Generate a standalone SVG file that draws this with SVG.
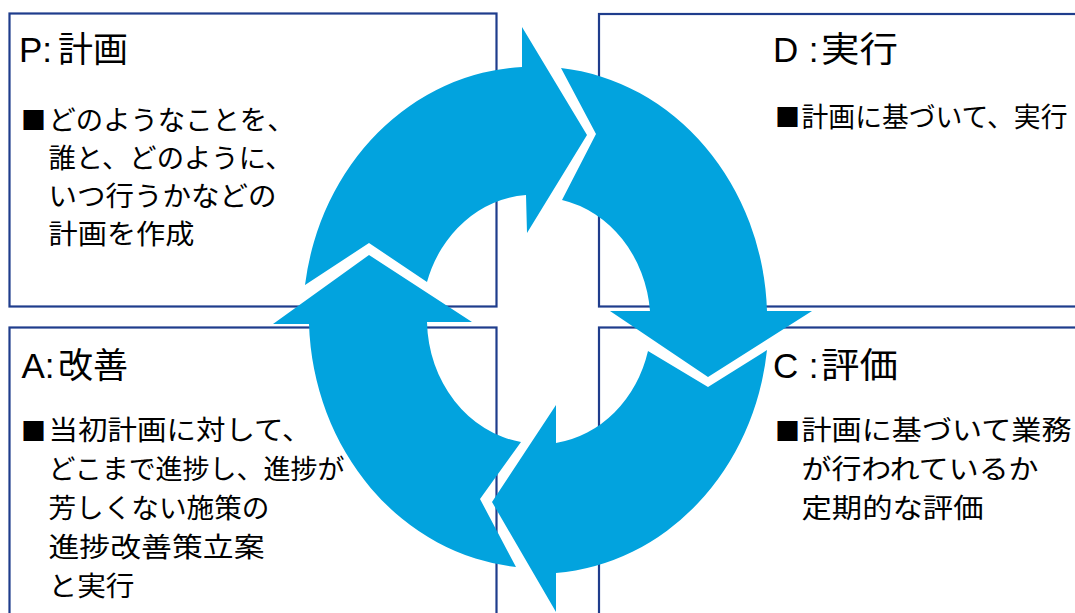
<svg xmlns="http://www.w3.org/2000/svg" width="1075" height="613" viewBox="0 0 1075 613">
<defs>
<style>
.box{fill:#fff;stroke:#1f3d8c;stroke-width:2.2}
.ttl{font-family:"Liberation Sans","Noto Sans CJK JP",sans-serif;font-size:35px;fill:#000}
.body{font-family:"Noto Sans CJK JP",sans-serif;font-size:27px;fill:#000}
.bul{font-family:"Noto Sans CJK JP",sans-serif;font-size:25px;fill:#000}
.arrow{fill:#02a3de}
</style>
</defs>
<rect width="1075" height="613" fill="#fff"/>
<g id="node-P">
<rect class="box" x="9.5" y="13.5" width="487" height="293"/>
<text class="ttl" x="19" y="62">P:<tspan x="58">計画</tspan></text>
<text class="bul" x="21" y="129.5">■</text>
<text class="body" x="48.5" y="130" textLength="246" lengthAdjust="spacingAndGlyphs">どのようなことを、</text>
<text class="body" x="48.5" y="168" textLength="244" lengthAdjust="spacingAndGlyphs">誰と、どのように、</text>
<text class="body" x="48.5" y="206" textLength="228" lengthAdjust="spacingAndGlyphs">いつ行うかなどの</text>
<text class="body" x="48.5" y="244" textLength="146" lengthAdjust="spacingAndGlyphs">計画を作成</text>
</g>
<g id="node-D">
<rect class="box" x="599" y="14" width="490" height="292.5"/>
<text class="ttl" x="773" y="62">D<tspan x="808.8">:</tspan><tspan x="821" textLength="77" lengthAdjust="spacingAndGlyphs">実行</tspan></text>
<text class="bul" x="775" y="126.5">■</text>
<text class="body" x="801.5" y="127" textLength="266" lengthAdjust="spacingAndGlyphs">計画に基づいて、実行</text>
</g>
<g id="node-C">
<rect class="box" x="599" y="327.5" width="490" height="300"/>
<text class="ttl" x="773" y="378">C<tspan x="808.8">:</tspan><tspan x="821" textLength="77" lengthAdjust="spacingAndGlyphs">評価</tspan></text>
<text class="bul" x="775" y="440.5">■</text>
<text class="body" x="801.5" y="440" textLength="270" lengthAdjust="spacingAndGlyphs">計画に基づいて業務</text>
<text class="body" x="801.5" y="479" textLength="237" lengthAdjust="spacingAndGlyphs">が行われているか</text>
<text class="body" x="801.5" y="518" textLength="182" lengthAdjust="spacingAndGlyphs">定期的な評価</text>
</g>
<g id="node-A">
<rect class="box" x="9.5" y="327.5" width="487" height="300"/>
<text class="ttl" x="21.5" y="378">A:<tspan x="58">改善</tspan></text>
<text class="bul" x="21" y="440.5">■</text>
<text class="body" x="48.5" y="440" textLength="263" lengthAdjust="spacingAndGlyphs">当初計画に対して、</text>
<text class="body" x="48.5" y="479" textLength="296" lengthAdjust="spacingAndGlyphs">どこまで進捗し、進捗が</text>
<text class="body" x="48.5" y="518" textLength="221" lengthAdjust="spacingAndGlyphs">芳しくない施策の</text>
<text class="body" x="48.5" y="557" textLength="216" lengthAdjust="spacingAndGlyphs">進捗改善策立案</text>
<text class="body" x="48.5" y="596" textLength="86" lengthAdjust="spacingAndGlyphs">と実行</text>
</g>
<g id="connectors">
<path id="arrow-P-D" class="arrow" d="M305,285 A229.5,253 0 0 1 522,67 L522,27 L587,135 L527,233 L526,195 A111.5,124.5 0 0 0 427,282 L369,243 Z"/>
<path id="arrow-D-C" class="arrow" d="M561,68 A229.5,253 0 0 1 767,311 L812,311 L708,377 L610,311 L650,311 A111.5,124.5 0 0 0 562,200 L596,134 Z"/>
<path id="arrow-C-A" class="arrow" d="M767,350 A229.5,253 0 0 1 556,573 L556,612 L492,502 L556,405 L556,443 A111.5,124.5 0 0 0 648,351 L708,387 Z"/>
<path id="arrow-A-P" class="arrow" d="M516,567 A229.5,253 0 0 1 309,324 L273,324 L369,255 L472,322 L427,322 A111.5,124.5 0 0 0 521,442 L480,499 Z"/>
</g>
</svg>
